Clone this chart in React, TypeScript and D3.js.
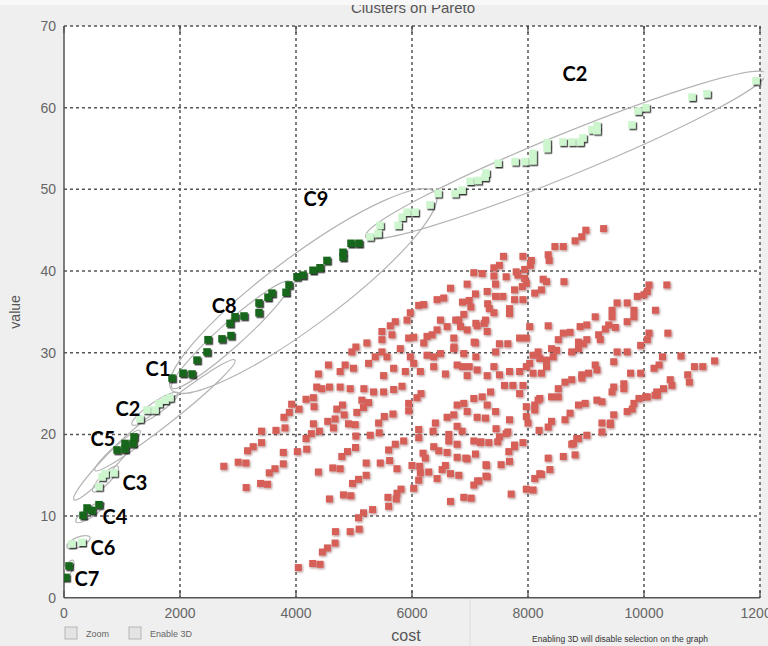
import React from "react";
import * as d3 from "d3";

const W = 768;
const H = 646;

const xTicks = [0, 2000, 4000, 6000, 8000, 10000, 12000];
const yTicks = [0, 10, 20, 30, 40, 50, 60, 70];

// Pareto-front clusters (dark green)
const paretoDark: [number, number][] = [
  [34, 2.5], [86, 3.9],
  [328, 10.1], [397, 11], [483, 10.7], [603, 11.4],
  [914, 18.1], [1052, 18.2], [1052, 18.9], [1190, 18.9], [1207, 19.7],
  [1862, 26.9],
  [2052, 27.5], [2207, 27.4], [2293, 29.1], [2466, 30.1], [2483, 31.6], [2724, 31.7],
  [2879, 32.1], [2862, 33.6], [2948, 34.4], [3103, 34.5],
  [3362, 34.9], [3362, 36.1], [3517, 36.8], [3586, 37.3], [3828, 37.4], [3879, 38.3],
  [4017, 39.3], [4121, 39.5], [4293, 40.1], [4414, 40.4], [4534, 41.3], [4810, 41.7],
  [4810, 42.3], [4948, 43.4], [5086, 43.4],
];

// Pareto-front clusters (light green)
const paretoLight: [number, number][] = [
  [138, 6.6], [310, 6.8],
  [603, 13.6], [655, 14.8], [707, 15.2], [862, 15.3],
  [1310, 21.9], [1431, 23], [1569, 23], [1638, 23.8], [1741, 24.2], [1828, 24.5],
  [5276, 44.2], [5414, 44.6], [5448, 45.6], [5759, 45.6], [5828, 46.6], [5914, 47.2], [6052, 47.2],
  [6310, 48.1], [6448, 49.5], [6741, 49.5], [6862, 49.9], [7000, 51], [7138, 51.1],
  [7259, 51.5], [7276, 52], [7483, 53.2], [7776, 53.4], [7948, 53.4], [8086, 53.5],
  [8086, 54.4], [8328, 55], [8328, 55.7], [8603, 55.8], [8759, 55.8], [8897, 55.8],
  [8948, 56.3], [9103, 57.3], [9190, 57.8], [9190, 57.2], [9793, 57.9], [9897, 59.6],
  [10034, 60], [10828, 61.3], [11086, 61.7], [11931, 63.3],
];

// Dominated solutions (red)
const dominated: [number, number][] = [
  [4040, 3.7], [4288, 4.2], [4415, 4.1], [4455, 5.6], [4542, 6.1], [4674, 6.7], [4680, 8.1], [4934, 8.1],
  [5089, 8.4], [5078, 9.8], [5164, 10.4], [5320, 10.8], [4576, 12.1], [4818, 12.6], [4945, 12.5], [4974, 14],
  [5078, 14.5], [5210, 15], [5210, 16.5], [5453, 16.5], [5614, 16.8], [5741, 15.8], [5585, 12.3], [5597, 11.2],
  [5729, 12.1], [5741, 12.8], [5810, 13.3], [6029, 13.4], [6115, 14.4], [6000, 16.2], [6133, 16.1], [5712, 18.8],
  [5856, 19.2], [5597, 18.1], [5435, 20.2], [5280, 19.9], [5032, 19.8], [5026, 18.4], [4888, 17.9], [4790, 17.3],
  [4761, 15.8], [4634, 15.9], [4386, 15.4], [4184, 18.2], [4023, 17.9], [4173, 19.5], [4265, 20.1], [3781, 17.8],
  [3781, 16.4], [3637, 15.8], [3539, 15.3], [3510, 13.9], [3389, 14], [3141, 13.5], [2755, 16.1], [3003, 16.6],
  [3136, 16.5], [3164, 18], [3262, 18.5], [3406, 19], [3406, 20.4], [3654, 20.5], [3810, 20.8], [3792, 22.1],
  [3885, 22.7], [3925, 23.7], [4052, 23.1], [4173, 24.3], [4300, 24.5], [4311, 23.4], [4300, 21.3], [4403, 20.4],
  [4547, 21.6], [4645, 20.8], [4674, 21.9], [4703, 23.1], [4801, 23.6], [4830, 22.4], [4905, 21.3], [5020, 21.2],
  [5049, 22.7], [5164, 23.3], [5251, 23.9], [5135, 24.2], [5424, 21.4], [5522, 22.2], [5672, 22.5], [5942, 22.9],
  [5942, 23.8], [6086, 24.5], [6155, 25], [4444, 25.6], [4357, 25.8], [4576, 25.8], [4761, 25.8], [4934, 25.6],
  [5170, 25.6], [5337, 25.2], [5510, 25.2], [5683, 25.5], [5827, 25.9],
  [6115, 20.6], [6115, 19.6], [6190, 17.7], [6230, 17.1], [6144, 15.3], [6288, 15.4], [6374, 18.5], [6461, 18],
  [6605, 17.8], [6363, 20.4], [6403, 21.4], [6605, 22.1], [6720, 22.4], [6778, 23.6], [6893, 23.8], [6951, 22.8],
  [6778, 21], [6864, 20.4], [6634, 20], [6634, 19.2], [6778, 18.8], [7066, 19.2], [7181, 19], [7325, 19],
  [7094, 17.6], [6951, 17], [6778, 17.2], [6576, 16.2], [6519, 15.7], [6663, 15.2], [6807, 15], [6432, 14.6],
  [6663, 11.8], [6893, 12.3], [7020, 12.2], [7066, 13.8], [7152, 14.3], [7296, 14.8], [7285, 16.2], [7066, 24.4],
  [7210, 24.6], [7354, 25.2], [7296, 23.6], [7123, 22.1], [7267, 22], [7441, 22.8],
  [7066, 39.8], [7210, 39.7], [7412, 40.4], [7412, 39.4], [6951, 38.4], [7094, 37.2], [7296, 37.5], [7441, 38.4],
  [7441, 36.9], [6663, 37.9], [6547, 36.7], [6432, 36.5], [6202, 35.9], [6115, 35.8], [5971, 34.9], [5914, 34],
  [5712, 33.8], [5626, 33.3], [5654, 32.2], [5481, 32.6], [5481, 31.6], [5222, 31.2], [5032, 30.7], [4963, 30.1],
  [4559, 28.5], [4847, 28.5], [4991, 28.1], [5251, 28.7], [5366, 29.5], [5481, 30.1], [5568, 29.5], [5798, 30.5],
  [5942, 31.8], [6029, 31.9], [5971, 29.5], [6202, 31.2], [6259, 32], [6346, 32.2], [6432, 32.8], [6490, 34],
  [6605, 33.2], [6720, 31.8], [6836, 33.2], [6807, 34], [6893, 34.7], [6951, 32.8], [7123, 33.3], [7267, 34],
  [7412, 34.9], [7296, 32.6], [6259, 29.7], [6374, 29.5], [6490, 29.9], [6720, 30.5], [6893, 29.9], [7094, 31.2],
  [7441, 30.1], [7412, 28.3], [7296, 27.2], [7123, 27.9], [6951, 27.2], [6778, 28.5], [6576, 27.4], [6374, 28.3],
  [6144, 27.7], [6029, 28.7], [5885, 27.7], [5683, 28.1], [5510, 27.2], [4761, 27.7], [4386, 27.4],
  [6870, 36.2], [6986, 36.4], [7014, 35.6], [6754, 34], [7101, 33.6], [7246, 33.6], [7304, 36], [7333, 35.4],
  [7072, 31.3], [7507, 31.1], [7652, 31.1], [6725, 30.7], [6870, 28.3], [6986, 28.3], [7101, 29.5],
  [9304, 45.2], [8997, 45], [8927, 44.2], [8812, 43.7], [8609, 43], [8464, 43], [8348, 42], [8365, 41.3],
  [8058, 41.3], [8041, 40.7], [7913, 41.8], [7797, 39.9], [7826, 39.5], [7942, 40.2], [7942, 39.1], [7971, 38.5],
  [7901, 38.1], [7768, 37.7], [7768, 36.5], [7913, 36.5], [8116, 37.3], [8232, 37.7], [8261, 39], [8319, 38.7],
  [8620, 38.7], [7577, 41.8], [7507, 40.7], [7623, 39.3], [7565, 36.9], [7681, 35.4], [7681, 34.8], [8029, 33.2],
  [7855, 31.8], [7971, 31.8], [8348, 33.3], [8522, 31.6], [8609, 32.4], [8725, 32.5], [8899, 33.2], [9014, 33.4],
  [9159, 34.4], [9333, 32.9], [9391, 33.4], [9449, 35.2], [9449, 34.4], [9536, 36.1], [9710, 36.1], [9710, 33.8],
  [9507, 33.1], [9217, 32.2], [9246, 31.6], [9014, 31.6], [8956, 31.1], [8870, 31.3], [8870, 30.5], [8754, 30.1],
  [8493, 30.3], [8406, 30.5], [8435, 29.5], [8319, 29.1], [8203, 29.3], [8174, 30.1], [8087, 29.7], [8029, 28.7],
  [7971, 28.3], [7855, 27.7], [7681, 27.7], [7507, 27.3], [7594, 26], [7739, 26], [7913, 26], [7855, 25],
  [8087, 27.5], [8232, 27.5], [8319, 28.3], [9884, 36.9], [9999, 37.1], [10057, 37.5], [10086, 38.3], [10394, 38.3],
  [9826, 35.2], [10197, 35.2], [9826, 34.4], [9942, 30.9], [10057, 31.6], [10086, 32.4], [10411, 32.4], [9536, 30.1],
  [9710, 30.1], [9478, 28.9], [9159, 28.5], [9188, 27.9], [9043, 27.5], [8927, 27.3], [8927, 26.9], [8754, 26.7],
  [8638, 26.4], [8522, 25.6], [8522, 24.6], [8406, 24.6], [8174, 24.2], [8116, 23.6], [8116, 23], [7971, 23.4],
  [7971, 22.2], [8000, 21.4], [8191, 20.5], [8348, 20.9], [8406, 21.6], [8638, 21.8], [8725, 22.6], [8870, 23.6],
  [8986, 23.8], [9188, 24.2], [9275, 24], [9449, 25.2], [9478, 25.8], [9652, 26.2], [9652, 25.6], [9768, 27.5],
  [9942, 27.5], [10173, 28.1], [10260, 28.5], [10318, 29.5], [10637, 29.6], [10869, 28.3], [11014, 28.3], [11217, 29],
  [10753, 27.3], [10782, 26.4], [10452, 26.7], [10481, 26], [10336, 25.6], [10220, 25.2], [10191, 24.8], [10028, 24.6],
  [9913, 24.4], [9826, 23.8], [9710, 22.8], [9478, 22.4], [9420, 21.4], [9275, 21.4], [9275, 20.3], [9014, 19.9],
  [8870, 19.5], [8783, 18.9], [8812, 17.5], [8609, 17.3], [8348, 17.1], [8377, 15.7], [8232, 15.1], [8116, 14.6],
  [8087, 13.2], [7971, 13.3], [7710, 12.7], [7681, 16.7], [7536, 16.3], [7768, 18.5], [7913, 19], [7623, 20.1],
  [7681, 21.8], [7507, 19.7],
  [7275, 16.3], [7275, 14.9], [7130, 14.3], [6928, 17.1], [7188, 19.1], [7449, 20.7], [7478, 19.1], [7652, 20.3],
  [7768, 18.7], [7670, 17.9], [8203, 24.4], [8203, 15.2], [8754, 18.8], [8841, 19.5], [9420, 21.2],
  [9797, 23.1], [10058, 24.6], [10232, 24.8],
];

// Cluster ellipses: major-axis end points (cost, value) and half width
const ellipses: { from: [number, number]; to: [number, number]; half: number }[] = [
  { from: [-52, 1.8], to: [155, 4.6], half: 4 },
  { from: [52, 6.2], to: [448, 7.4], half: 5 },
  { from: [207, 9.3], to: [690, 11.6], half: 5 },
  { from: [500, 13], to: [931, 16.1], half: 5 },
  { from: [172, 12], to: [1310, 20.5], half: 7 },
  { from: [1172, 21.2], to: [1966, 25.1], half: 6 },
  { from: [534, 15.6], to: [2948, 29.1], half: 9 },
  { from: [1862, 25.7], to: [3897, 38.7], half: 12 },
  { from: [1850, 25.5], to: [6400, 49.6], half: 35 },
  { from: [5200, 44.2], to: [12100, 64.2], half: 21 },
];

const clusterLabels: { text: string; at: [number, number] }[] = [
  { text: "C7", at: [397, 2.4] },
  { text: "C6", at: [672, 6.2] },
  { text: "C4", at: [879, 10] },
  { text: "C3", at: [1224, 14.2] },
  { text: "C5", at: [672, 19.6] },
  { text: "C2", at: [1103, 23.2] },
  { text: "C1", at: [1621, 28.1] },
  { text: "C8", at: [2760, 35.9] },
  { text: "C9", at: [4345, 48.9] },
  { text: "C2", at: [8810, 64.2] },
];

const PL = 64, PR = 760, PT = 26, PB = 597.8;

export default function App() {
  const x = d3.scaleLinear().domain([0, 12000]).range([PL, PR]);
  const y = d3.scaleLinear().domain([0, 70]).range([PB, PT]);
  const rs = 7;
  const gs = 7.5;
  const gridColor = "#555";
  const font = "'Liberation Sans', Arial, sans-serif";

  return (
    <svg width={W} height={H} style={{ position: "absolute", left: 0, top: 0 }}>
      <defs>
        <filter id="shR" x="-50%" y="-50%" width="200%" height="200%">
          <feDropShadow dx="1" dy="1.2" stdDeviation="0.8" floodColor="#5a1a1a" floodOpacity="0.45" />
        </filter>
        <filter id="shG" x="-50%" y="-50%" width="200%" height="200%">
          <feDropShadow dx="1.3" dy="1.5" stdDeviation="0.5" floodColor="#000" floodOpacity="0.8" />
        </filter>
        <clipPath id="titleClip">
          <rect x={0} y={5} width={W} height={20} />
        </clipPath>
        <clipPath id="plotClip">
          <rect x={PL} y={PT} width={PR - PL + 4} height={PB - PT} />
        </clipPath>
      </defs>
      <rect x={0} y={0} width={W} height={H} fill="#efefef" />
      <rect x={0} y={0} width={W} height={5} fill="#f8f8f8" />
      <rect x={PL} y={PT} width={PR - PL} height={PB - PT} fill="#ffffff" />
      <line x1={470} x2={470} y1={PB + 2} y2={H} stroke="#dcdcdc" strokeWidth={1} />

      <text x={413} y={13} textAnchor="middle" fontFamily={font} fontSize={15} fill="#555" clipPath="url(#titleClip)">
        Clusters on Pareto
      </text>

      {/* grid */}
      {xTicks.filter((t) => t > 0).map((t) => (
        <line key={"gx" + t} x1={x(t)} x2={x(t)} y1={PT} y2={PB} stroke={gridColor} strokeWidth={1.5} strokeDasharray="3,3" />
      ))}
      {yTicks.filter((t) => t > 0).map((t) => (
        <line key={"gy" + t} x1={PL} x2={PR} y1={y(t)} y2={y(t)} stroke={gridColor} strokeWidth={1.5} strokeDasharray="3,3" />
      ))}
      {/* tick marks */}
      {xTicks.map((t) => (
        <g key={"tx" + t}>
          <line x1={x(t)} x2={x(t)} y1={PB} y2={PB - 7} stroke="#444" strokeWidth={1.2} />
          <line x1={x(t)} x2={x(t)} y1={PT} y2={PT + 7} stroke="#444" strokeWidth={1.2} />
        </g>
      ))}
      {/* axes */}
      <line x1={PL} x2={PL} y1={PT} y2={PB} stroke="#555" strokeWidth={1.5} />
      <line x1={PL} x2={PR} y1={PB} y2={PB} stroke="#555" strokeWidth={1.5} />

      {xTicks.map((t) => (
        <text key={"lx" + t} x={x(t)} y={618} textAnchor="middle" fontFamily={font} fontSize={14} fill="#666">
          {t}
        </text>
      ))}
      {yTicks.map((t) => (
        <text key={"ly" + t} x={56} y={y(t) + 5} textAnchor="end" fontFamily={font} fontSize={14} fill="#666">
          {t}
        </text>
      ))}

      <text transform={`translate(20,${(PT + PB) / 2}) rotate(-90)`} textAnchor="middle" fontFamily={font} fontSize={14} fill="#555">
        value
      </text>
      <text x={406} y={641} textAnchor="middle" fontFamily={font} fontSize={16} fill="#555">
        cost
      </text>

      {/* bottom controls */}
      <rect x={65} y={627} width={12} height={12} fill="#e4e4e4" stroke="#b5b5b5" />
      <text x={86} y={637} fontFamily={font} fontSize={9} fill="#666">Zoom</text>
      <rect x={129} y={627} width={12} height={12} fill="#e4e4e4" stroke="#b5b5b5" />
      <text x={150} y={637} fontFamily={font} fontSize={9} fill="#666">Enable 3D</text>
      <text x={620} y={642} textAnchor="middle" fontFamily={font} fontSize={8.5} fill="#333">
        Enabling 3D will disable selection on the graph
      </text>

      <g clipPath="url(#plotClip)">
        {/* dominated solutions */}
        <g filter="url(#shR)">
          {dominated.map(([c, v], i) => (
            <rect key={"r" + i} x={x(c) - rs / 2} y={y(v) - rs / 2} width={rs} height={rs} fill="#d65f59" />
          ))}
        </g>

        {/* cluster ellipses */}
        {ellipses.map((e, i) => {
          const x1 = x(e.from[0]), y1 = y(e.from[1]);
          const x2 = x(e.to[0]), y2 = y(e.to[1]);
          const cx = (x1 + x2) / 2, cy = (y1 + y2) / 2;
          const rx = Math.hypot(x2 - x1, y2 - y1) / 2;
          const ang = (Math.atan2(y2 - y1, x2 - x1) * 180) / Math.PI;
          return (
            <ellipse key={"e" + i} cx={cx} cy={cy} rx={rx} ry={e.half}
              transform={`rotate(${ang},${cx},${cy})`} fill="none" stroke="#b4b4b4" strokeWidth={1.2} />
          );
        })}

        {/* pareto front */}
        <g filter="url(#shG)">
          {paretoDark.map(([c, v], i) => (
            <rect key={"d" + i} x={x(c) - gs / 2} y={y(v) - gs / 2} width={gs} height={gs} fill="#17661a" />
          ))}
          {paretoLight.map(([c, v], i) => (
            <rect key={"l" + i} x={x(c) - gs / 2} y={y(v) - gs / 2} width={gs} height={gs} fill="#cdf6cf" />
          ))}
        </g>
      </g>

      {clusterLabels.map((l, i) => (
        <text key={"c" + i} x={x(l.at[0])} y={y(l.at[1])} textAnchor="middle" dominantBaseline="central"
          fontFamily="Lato, 'Open Sans', sans-serif" fontWeight={700} fontSize={20} fill="#000">
          {l.text}
        </text>
      ))}
    </svg>
  );
}
